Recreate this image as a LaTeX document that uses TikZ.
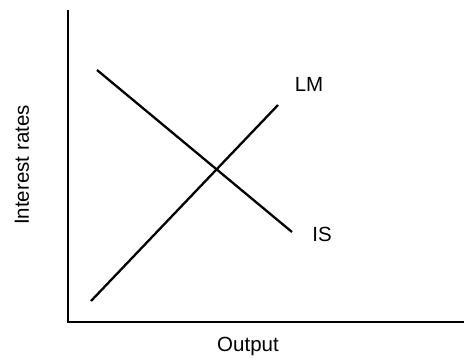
\documentclass[tikz,border=0pt]{standalone}
\usepackage{fontspec}
\setmainfont{Liberation Sans}
\begin{document}
\begin{tikzpicture}[x=1pt,y=-1pt,
  axis/.style={line width=2.8pt,line join=miter},
  curve/.style={line width=2.3pt},
  lbl/.style={inner sep=0pt,font=\fontsize{20.5}{24}\selectfont}]
\useasboundingbox (0,0) rectangle (464,357);
\coordinate (ytop) at (68,10);
\coordinate (origin) at (68,322);
\coordinate (xend) at (464,322);
\draw[axis] (ytop) -- (origin) -- (xend);
\coordinate (lm0) at (91,301);
\coordinate (lm1) at (278,105);
\coordinate (is0) at (97,70);
\coordinate (is1) at (292,232);
\draw[curve] (lm0) -- (lm1);
\draw[curve] (is0) -- (is1);
\node[lbl] (lm) at (309,84) {LM};
\node[lbl] (is) at (322,234) {IS};
\node[lbl] (xl) at (248,346) {Output};
\node[lbl,rotate=90] (yl) at (22,165) {Interest rates};
\end{tikzpicture}
\end{document}
